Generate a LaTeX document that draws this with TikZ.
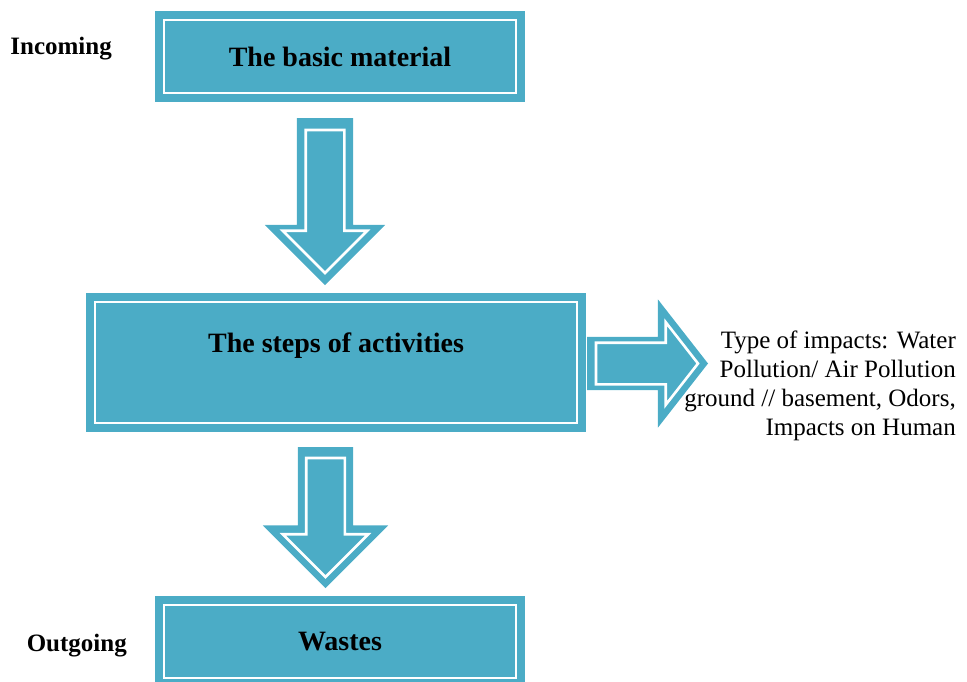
\documentclass[tikz,border=0pt]{standalone}
\usepackage{fontspec}
\setmainfont{Liberation Serif}
\usetikzlibrary{positioning, shapes.arrows, calc}
\definecolor{aqua}{HTML}{4BACC6}
\tikzset{
  stage/.style={draw=aqua, fill=aqua, double=white, double distance=2.6pt,
                line width=7.7pt, outer sep=0pt, inner sep=0pt,
                minimum width=352pt, minimum height=73pt,
                font=\fontsize{28}{32}\selectfont\bfseries},
  side/.style={font=\fontsize{25}{29}\selectfont\bfseries, inner sep=0pt},
  blk/.style={single arrow, fill=aqua, outer sep=0pt, anchor=tail,
              single arrow tip angle=90},
  blkline/.style={single arrow, draw=white, line width=2.6pt, outer sep=0pt,
                  anchor=tail, single arrow tip angle=90},
  pointdown/.style={shape border rotate=270},
  impact/.style={align=right, font=\fontsize{25}{29}\selectfont, inner sep=0pt},
}
\begin{document}
\begin{tikzpicture}[x=1pt, y=-1pt]
  \clip (0,0) rectangle (967,681);

  \node[stage] (basic) at (340,56.5) {The basic material};
  \node[stage, minimum width=482pt, minimum height=121pt, text depth=39pt,
        below=209pt of basic, xshift=-4pt] (steps) {The steps of activities};
  \node[stage, below=182pt of steps, xshift=4pt] (wastes) {Wastes};

  \node[side, left=52pt of basic.west, yshift=8pt] (incoming) {Incoming};
  \node[side, left=37pt of wastes.west, yshift=-4pt] (outgoing) {Outgoing};

  % basic -> steps
  \node[blk, pointdown, minimum height=167pt, minimum width=120pt, inner sep=28pt,
        single arrow head extend=32pt] (down1) at ($(basic.south)+(-15,25)$) {};
  \node[blkline, pointdown, minimum height=143pt, minimum width=82pt, inner sep=18pt,
        single arrow head extend=23pt] (down1line) at ($(down1.tail)+(0,12)$) {};
  % steps -> wastes
  \node[blk, pointdown, minimum height=141pt, minimum width=125pt, inner sep=27.5pt,
        single arrow head extend=35pt] (down2) at ($(steps.south)+(-10.5,24)$) {};
  \node[blkline, pointdown, minimum height=119pt, minimum width=83pt, inner sep=18pt,
        single arrow head extend=23.5pt] (down2line) at ($(down2.tail)+(0,11)$) {};
  % steps -> impacts
  \node[blk, minimum height=121pt, minimum width=128pt, inner sep=26.5pt,
        single arrow head extend=37.5pt, single arrow tip angle=104]
        (side) at ($(steps.east)+(10,1)$) {};
  \node[blkline, minimum height=102pt, minimum width=80pt, inner sep=19.5pt,
        single arrow head extend=20.5pt, single arrow tip angle=104]
        (sideline) at ($(side.tail)+(9,0)$) {};

  \node[impact, anchor=east] (impacts) at (956,386)
    {Type of impacts: Water\\Pollution/ Air Pollution\\ground // basement, Odors,\\Impacts on Human};
\end{tikzpicture}
\end{document}
